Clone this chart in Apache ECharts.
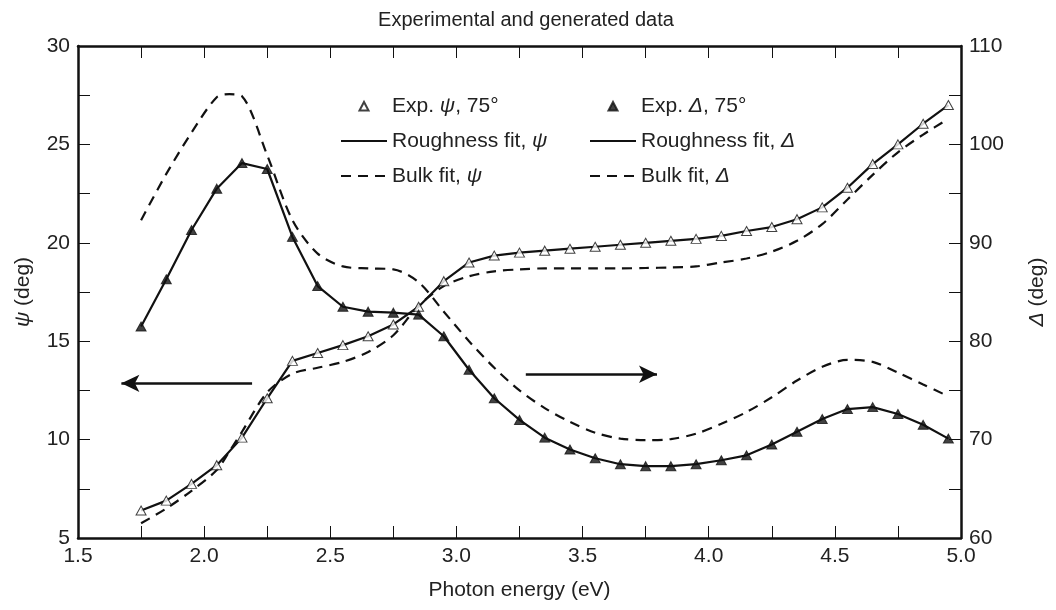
<!DOCTYPE html>
<html>
<head>
<meta charset="utf-8">
<title>Experimental and generated data</title>
<script src="https://cdn.jsdelivr.net/npm/echarts@6/dist/echarts.min.js"></script>
<style>
  html, body { margin: 0; padding: 0; background: #fff; }
  #chart { width: 1056px; height: 610px; }
</style>
</head>
<body>
<div id="chart"></div>
<script>
// photon energies of the measured points (eV)
const energy = [1.75, 1.85, 1.95, 2.05, 2.15, 2.25, 2.35, 2.45, 2.55, 2.65, 2.75,
  2.85, 2.95, 3.05, 3.15, 3.25, 3.35, 3.45, 3.55, 3.65, 3.75, 3.85, 3.95, 4.05,
  4.15, 4.25, 4.35, 4.45, 4.55, 4.65, 4.75, 4.85, 4.95]

// measured psi and delta (deg), the roughness fit goes through them
const psiExp = [6.4, 6.9, 7.75, 8.7, 10.1, 12.1, 14.0, 14.4, 14.8, 15.25, 15.85,
  16.75, 18.05, 19.0, 19.35, 19.5, 19.6, 19.7, 19.8, 19.9, 20.0, 20.1, 20.2, 20.35,
  20.6, 20.8, 21.2, 21.8, 22.8, 24.0, 25.0, 26.05, 27.0]
const deltaExp = [81.5, 86.3, 91.3, 95.5, 98.1, 97.5, 90.6, 85.6, 83.5, 83.0, 82.9,
  82.7, 80.5, 77.1, 74.2, 72.0, 70.2, 69.0, 68.1, 67.5, 67.3, 67.3, 67.5, 67.9,
  68.4, 69.5, 70.8, 72.1, 73.1, 73.3, 72.6, 71.5, 70.1]

// bulk model (dashed curves)
const bulkEnergy = [1.75, 1.85, 1.95, 2.05, 2.10, 2.15, 2.25, 2.35, 2.45, 2.55, 2.65,
  2.75, 2.85, 2.95, 3.05, 3.15, 3.25, 3.35, 3.45, 3.55, 3.65, 3.75, 3.85, 3.95,
  4.05, 4.15, 4.25, 4.35, 4.45, 4.55, 4.65, 4.75, 4.85, 4.95]
const psiBulk = [5.75, 6.5, 7.4, 8.45, 9.4, 10.4, 12.4, 13.35, 13.65, 13.95, 14.45,
  15.3, 16.8, 17.8, 18.3, 18.55, 18.65, 18.7, 18.7, 18.7, 18.7, 18.72, 18.75, 18.8,
  19.0, 19.2, 19.55, 20.1, 20.95, 22.2, 23.45, 24.6, 25.5, 26.3]
const deltaBulk = [92.3, 97.0, 101.2, 104.8, 105.1, 104.9, 98.9, 92.3, 88.9, 87.6, 87.4,
  87.3, 86.0, 83.0, 80.0, 77.3, 75.0, 73.2, 71.8, 70.7, 70.1, 69.95, 70.05, 70.6,
  71.6, 72.8, 74.3, 76.0, 77.4, 78.1, 77.9, 76.8, 75.6, 74.4]

// arrows telling which axis each family belongs to: [x from, x to, level]
const psiArrow = [2.19, 1.672, 12.86]
const deltaArrow = [3.275, 3.795, 76.64]

const names = {
  psiExp: 'Exp. ψ, 75°',
  deltaExp: 'Exp. Δ, 75°',
  psiRough: 'Roughness fit, ψ',
  deltaRough: 'Roughness fit, Δ',
  psiBulk: 'Bulk fit, ψ',
  deltaBulk: 'Bulk fit, Δ',
}

const font = 'Liberation Sans, Arial, sans-serif'
const fontSize = 21
const ink = '#111'
const textColor = '#222'

const pairs = (xs, ys) => xs.map((x, i) => [x, ys[i]])

// italic greek letters inside plain text
const richGreek = {
  i: { fontStyle: 'italic', fontFamily: font, fontSize: fontSize, color: textColor },
}
const withItalic = s => s.replace(/([ψΔ])/g, '{i|$1}')

// small triangle inside a wide legend box (the move-tos set the box size)
const triIcon = 'path://M0,0M46,14M18.5,11.5L23,3L27.5,11.5Z'
// line legend items: no marker in the middle
const noMarker = { opacity: 0 }

const isStep = (v, step) => Math.abs(v / step - Math.round(v / step)) < 1e-6

const frameLine = { lineStyle: { color: ink, width: 2.5 } }
const innerTick = { inside: true, length: 12, lineStyle: { color: ink, width: 1 } }

const xAxisBase = {
  type: 'value',
  min: 1.5,
  max: 5.0,
  interval: 0.25,
  axisLine: frameLine,
  axisTick: innerTick,
  splitLine: { show: false },
}

const legendBase = {
  orient: 'vertical',
  top: 89,
  itemWidth: 46,
  itemHeight: 14,
  itemGap: 11,
  textStyle: { fontFamily: font, fontSize: fontSize, color: textColor, lineHeight: 24, rich: richGreek },
  formatter: name => withItalic(name),
  selectedMode: false,
}

const myChart = echarts.init(document.getElementById('chart'))

const option = {
  backgroundColor: '#fff',
  animation: false,
  title: {
    text: 'Experimental and generated data',
    left: 521,
    textAlign: 'center',
    top: 5,
    textStyle: { fontFamily: font, fontSize: 20, fontWeight: 'normal', color: textColor },
  },
  grid: { left: 78, right: 92, top: 46, bottom: 72 },
  legend: [
    Object.assign({}, legendBase, {
      left: 335,
      data: [
        { name: names.psiExp, icon: triIcon },
        { name: names.psiRough, itemStyle: noMarker },
        { name: names.psiBulk, itemStyle: noMarker },
      ],
    }),
    Object.assign({}, legendBase, {
      left: 584,
      data: [
        { name: names.deltaExp, icon: triIcon },
        { name: names.deltaRough, itemStyle: noMarker },
        { name: names.deltaBulk, itemStyle: noMarker },
      ],
    }),
  ],
  xAxis: [
    Object.assign({}, xAxisBase, {
      position: 'bottom',
      name: 'Photon energy (eV)',
      nameLocation: 'middle',
      nameGap: 42,
      nameTextStyle: { fontFamily: font, fontSize: fontSize, color: textColor },
      axisLabel: {
        margin: 8,
        fontFamily: font,
        fontSize: fontSize,
        color: textColor,
        formatter: v => (isStep(v, 0.5) ? v.toFixed(1) : ''),
      },
    }),
    Object.assign({}, xAxisBase, {
      position: 'top',
      axisLabel: { show: false },
    }),
  ],
  yAxis: [
    {
      type: 'value',
      position: 'left',
      min: 5,
      max: 30,
      interval: 2.5,
      name: '{i|ψ} (deg)',
      nameLocation: 'middle',
      nameRotate: 90,
      nameGap: 44,
      nameTextStyle: { fontFamily: font, fontSize: fontSize, color: textColor, rich: richGreek },
      axisLine: frameLine,
      axisTick: innerTick,
      splitLine: { show: false },
      axisLabel: {
        margin: 8,
        fontFamily: font,
        fontSize: fontSize,
        color: textColor,
        formatter: v => (isStep(v, 5) ? String(v) : ''),
      },
    },
    {
      type: 'value',
      position: 'right',
      min: 60,
      max: 110,
      interval: 5,
      name: '{i|Δ} (deg)',
      nameLocation: 'middle',
      nameRotate: 90,
      nameGap: 66,
      nameTextStyle: { fontFamily: font, fontSize: fontSize, color: textColor, rich: richGreek },
      axisLine: frameLine,
      axisTick: innerTick,
      splitLine: { show: false },
      axisLabel: {
        margin: 8,
        fontFamily: font,
        fontSize: fontSize,
        color: textColor,
        formatter: v => (isStep(v, 10) ? String(v) : ''),
      },
    },
  ],
  series: [
    {
      name: names.psiRough,
      type: 'line',
      yAxisIndex: 0,
      data: pairs(energy, psiExp),
      symbol: 'none',
      lineStyle: { color: ink, width: 2.2 },
      itemStyle: { color: ink },
      z: 2,
      markLine: {
        silent: true,
        symbol: ['none', 'arrow'],
        symbolSize: [13, 18],
        label: { show: false },
        lineStyle: { color: ink, width: 2.5, type: 'solid' },
        data: [[
          { coord: [psiArrow[0], psiArrow[2]] },
          { coord: [psiArrow[1], psiArrow[2]] },
        ]],
      },
    },
    {
      name: names.deltaRough,
      type: 'line',
      yAxisIndex: 1,
      data: pairs(energy, deltaExp),
      symbol: 'none',
      lineStyle: { color: ink, width: 2.2 },
      itemStyle: { color: ink },
      z: 2,
      markLine: {
        silent: true,
        symbol: ['none', 'arrow'],
        symbolSize: [13, 18],
        label: { show: false },
        lineStyle: { color: ink, width: 2.5, type: 'solid' },
        data: [[
          { coord: [deltaArrow[0], deltaArrow[2]] },
          { coord: [deltaArrow[1], deltaArrow[2]] },
        ]],
      },
    },
    {
      name: names.psiBulk,
      type: 'line',
      yAxisIndex: 0,
      data: pairs(bulkEnergy, psiBulk),
      symbol: 'none',
      smooth: 0.3,
      lineStyle: { color: ink, width: 2.2, type: [10, 7] },
      itemStyle: { color: ink },
      z: 2,
    },
    {
      name: names.deltaBulk,
      type: 'line',
      yAxisIndex: 1,
      data: pairs(bulkEnergy, deltaBulk),
      symbol: 'none',
      smooth: 0.3,
      lineStyle: { color: ink, width: 2.2, type: [10, 7] },
      itemStyle: { color: ink },
      z: 2,
    },
    {
      name: names.psiExp,
      type: 'scatter',
      yAxisIndex: 0,
      data: pairs(energy, psiExp),
      symbol: 'triangle',
      symbolSize: [10, 9],
      itemStyle: { color: '#fff', borderColor: ink, borderWidth: 1 },
      z: 4,
    },
    {
      name: names.deltaExp,
      type: 'scatter',
      yAxisIndex: 1,
      data: pairs(energy, deltaExp),
      symbol: 'triangle',
      symbolSize: [10, 9],
      itemStyle: { color: ink, borderColor: ink, borderWidth: 1 },
      z: 4,
    },
  ],
}

myChart.setOption(option)
</script>
</body>
</html>
